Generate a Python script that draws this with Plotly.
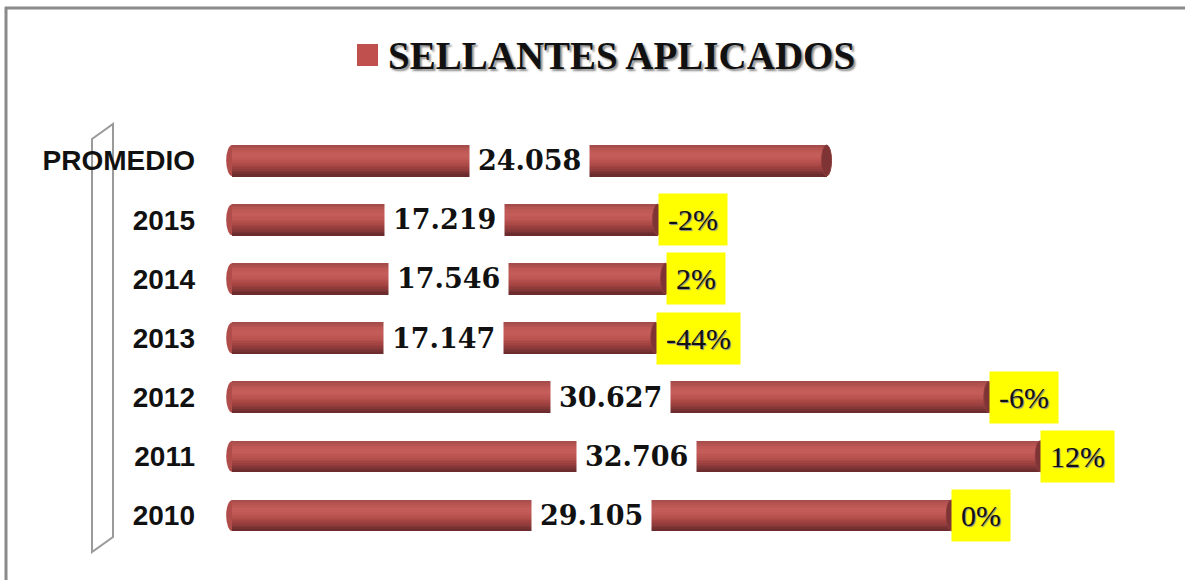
import plotly.graph_objects as go

# ---- data (bottom to top) ----
categories = ["2010", "2011", "2012", "2013", "2014", "2015", "PROMEDIO"]
values = [29105, 32706, 30627, 17147, 17546, 17219, 24058]
value_labels = ["29.105", "32.706", "30.627", "17.147", "17.546", "17.219", "24.058"]
pct_labels = ["0%", "12%", "-6%", "-44%", "2%", "-2%", None]
series_name = "SELLANTES APLICADOS"

# ---- layout geometry ----
W, H = 1185, 580
L, PW = 226, 945
T, PH = 131, 414
XMIN, XMAX = -250, 38000
UPX = (XMAX - XMIN) / PW  # data units per pixel


def px(xp):
    return (xp - L) / PW


def py(yp):
    return (T + PH - yp) / PH


BAR_W = 0.525
# cylinder shading key colours, top to bottom
key_colors = [(0xa4, 0x4c, 0x4a), (0xbe, 0x58, 0x55), (0xc5, 0x5e, 0x5a),
              (0xbd, 0x55, 0x52), (0xa9, 0x47, 0x45), (0x8e, 0x3b, 0x3b),
              (0x6c, 0x2c, 0x2d)]
N = 18
strip_colors = []
for i in range(N):
    t = i / (N - 1) * (len(key_colors) - 1)
    k = min(int(t), len(key_colors) - 2)
    f = t - k
    c = [round(a + (b - a) * f) for a, b in zip(key_colors[k], key_colors[k + 1])]
    strip_colors.append("rgb({},{},{})".format(*c))

fig = go.Figure()
for i, col in enumerate(strip_colors):
    fig.add_trace(go.Bar(
        x=values, y=categories, orientation="h",
        width=BAR_W / N + 0.003,
        offset=BAR_W / 2 - (i + 1) * BAR_W / N,
        marker=dict(color=col, line=dict(width=0)),
        name=series_name, showlegend=False, hoverinfo="x+y",
    ))

shapes = []
# end caps of the cylinders
for j, v in enumerate(values):
    shapes.append(dict(type="circle", xref="x", yref="y", layer="below",
                       x0=-6 * UPX, x1=6 * UPX,
                       y0=j - BAR_W / 2, y1=j + BAR_W / 2,
                       fillcolor="#b04c49", line=dict(width=0)))
    shapes.append(dict(type="circle", xref="x", yref="y", layer="above",
                       x0=v - 5 * UPX, x1=v + 5 * UPX,
                       y0=j - BAR_W / 2, y1=j + BAR_W / 2,
                       fillcolor="#7e3334", line=dict(color="#8e3c3c", width=1)))

# chart frame (top and left)
shapes.append(dict(type="line", xref="paper", yref="paper",
                   x0=px(5), x1=px(1190), y0=py(8), y1=py(8),
                   line=dict(color="#8a8a8a", width=3)))
shapes.append(dict(type="line", xref="paper", yref="paper",
                   x0=px(6), x1=px(6), y0=py(7), y1=py(590),
                   line=dict(color="#8a8a8a", width=3)))
# 3D side wall
wall = "M {} {} L {} {} L {} {} L {} {} Z".format(
    px(92), py(139), px(113), py(124), px(113), py(537), px(92), py(552))
shapes.append(dict(type="path", xref="paper", yref="paper", path=wall,
                   line=dict(color="#9a9a9a", width=2), layer="below"))
# legend key square
shapes.append(dict(type="rect", xref="paper", yref="paper",
                   x0=px(357), x1=px(378), y0=py(44), y1=py(66),
                   fillcolor="#c0504d", line=dict(width=0)))

annotations = []
for j, (v, lab) in enumerate(zip(values, value_labels)):
    annotations.append(dict(
        x=v / 2, y=j, xref="x", yref="y", text=lab,
        xanchor="center", yanchor="middle",
        showarrow=False, bgcolor="white", borderpad=8,
        font=dict(family="DejaVu Serif", size=27, color="#111111", weight="bold"),
    ))
for j, (v, lab) in enumerate(zip(values, pct_labels)):
    if lab is None:
        continue
    annotations.append(dict(
        x=v, y=j, xref="x", yref="y", text=lab,
        xanchor="left", yanchor="middle", showarrow=False,
        bgcolor="#ffff00", borderpad=9,
        font=dict(family="Liberation Serif", size=30, color="#111111",
                  shadow="1px 1px 1px #888888"),
    ))
annotations.append(dict(
    x=px(386), y=py(55), xref="paper", yref="paper",
    xanchor="left", yanchor="middle",
    text=series_name, showarrow=False,
    font=dict(family="Liberation Serif", size=39, color="#111111", weight="bold",
              shadow="2px 2px 2px #8a8a8a"),
))

fig.update_layout(
    width=W, height=H,
    margin=dict(l=L, r=W - L - PW, t=T, b=H - T - PH, pad=0),
    paper_bgcolor="white", plot_bgcolor="white",
    barmode="overlay", bargap=0,
    showlegend=False,
    xaxis=dict(range=[XMIN, XMAX], visible=False, showgrid=False, zeroline=False),
    yaxis=dict(type="category", categoryorder="array", categoryarray=categories,
               range=[-0.5, 6.5], showgrid=False, zeroline=False, showline=False,
               ticks="", ticklabelstandoff=30,
               tickfont=dict(family="Liberation Sans", size=28, color="#111111",
                             weight="bold")),
    shapes=shapes, annotations=annotations,
)

fig.write_html("out.html", config={"displayModeBar": False},
               post_script="document.body.style.margin='0';")
